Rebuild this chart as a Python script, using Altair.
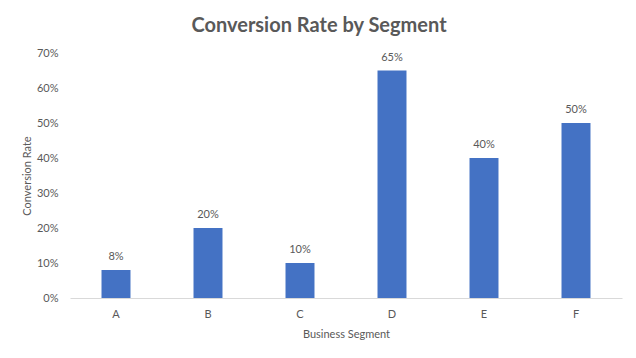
import altair as alt
import pandas as pd

segments = ["A", "B", "C", "D", "E", "F"]
rates = [0.08, 0.20, 0.10, 0.65, 0.40, 0.50]
labels = ["8%", "20%", "10%", "65%", "40%", "50%"]
y_ticks = [0, 0.1, 0.2, 0.3, 0.4, 0.5, 0.6, 0.7]

df = pd.DataFrame({"Segment": segments, "Rate": rates, "Label": labels})

FONT = "Lato"
TXT = "#595959"

x = alt.X(
    "Segment:N",
    sort=segments,
    scale=alt.Scale(paddingInner=0.685, paddingOuter=0.3425),
    axis=alt.Axis(
        title="Business Segment",
        labelAngle=0,
        ticks=False,
        domainColor="#D9D9D9",
        domainWidth=1,
        labelPadding=10,
        titleY=36,
        titleBaseline="middle",
        labelFont=FONT,
        labelFontSize=11,
        labelColor=TXT,
        titleFont=FONT,
        titleFontSize=11,
        titleFontWeight="normal",
        titleColor=TXT,
    ),
)
y = alt.Y(
    "Rate:Q",
    scale=alt.Scale(domain=[0, 0.7], nice=False),
    axis=alt.Axis(
        title="Conversion Rate",
        values=y_ticks,
        format=".0%",
        grid=False,
        domain=False,
        ticks=False,
        labelOverlap=False,
        labelPadding=12,
        titleX=-43,
        titleY=122.5,
        titleAngle=-90,
        titleAlign="center",
        titleBaseline="middle",
        labelFont=FONT,
        labelFontSize=11,
        labelColor=TXT,
        titleFont=FONT,
        titleFontSize=11,
        titleFontWeight="normal",
        titleColor=TXT,
    ),
)

base = alt.Chart(df).encode(x=x, y=y)
bars = base.mark_bar(color="#4472C4")
text = base.mark_text(
    baseline="alphabetic", dy=-10, font=FONT, fontSize=11, color=TXT
).encode(text="Label:N")

chart = (
    alt.layer(bars, text)
    .properties(
        width=552,
        height=245,
        background="white",
        title=alt.TitleParams(
            "Conversion Rate by Segment",
            font=FONT,
            fontSize=20,
            fontWeight="bold",
            color=TXT,
            anchor="middle",
            dx=-27,
            offset=11,
        ),
        padding={"left": 62, "top": 45, "right": 6, "bottom": 52},
        autosize=alt.AutoSizeParams(type="none"),
    )
    .configure_view(stroke=None)
    .configure_axisY(labelOverlap=False)
)

chart.save("out.html", embed_options={"renderer": "svg", "actions": False})
